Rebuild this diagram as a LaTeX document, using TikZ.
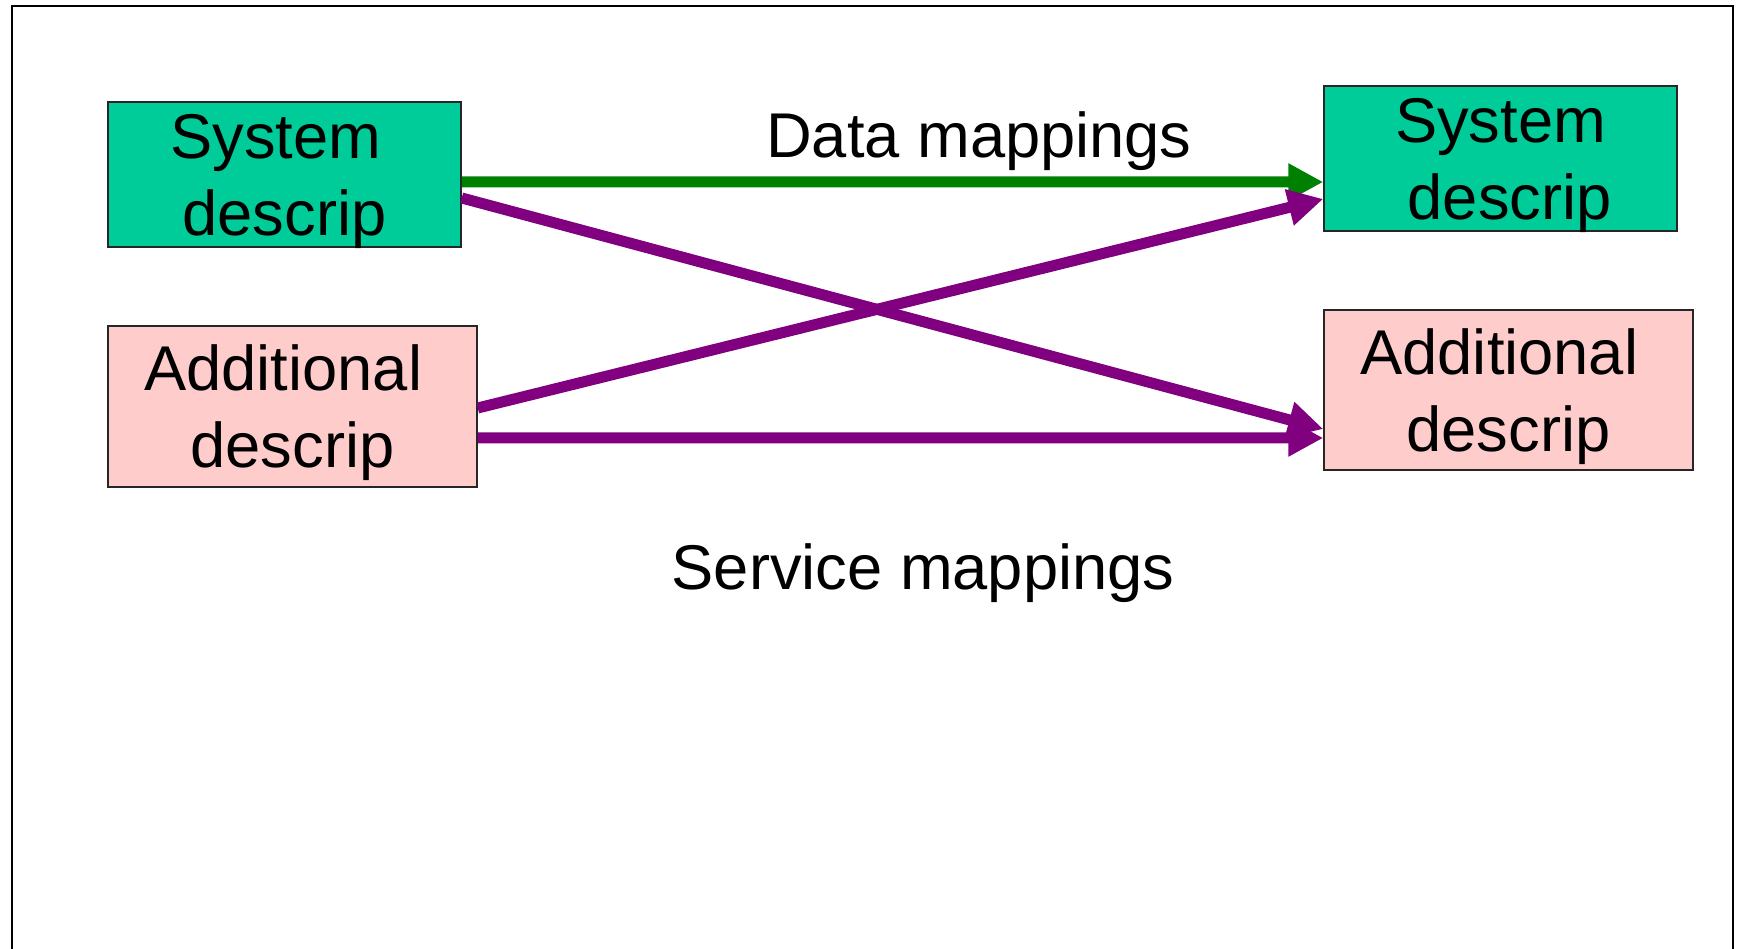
\documentclass[tikz,border=0pt]{standalone}
\usepackage{fontspec}
\setmainfont{Liberation Sans}
\usetikzlibrary{arrows.meta}
\definecolor{boxgreen}{HTML}{00CC99}
\definecolor{boxpink}{HTML}{FFCCCC}
\definecolor{arrgreen}{HTML}{008000}
\definecolor{arrpurple}{HTML}{800080}
\begin{document}
\begin{tikzpicture}[x=0.02cm,y=-0.02cm,
  bigfont/.style={font=\fontsize{36}{43.8}\selectfont},
  desc/.style={draw=black!85, line width=0.9pt, align=center, inner sep=0pt, text depth=0pt, bigfont},
  sysbox/.style={desc, fill=boxgreen, minimum width=7.06cm, minimum height=2.9cm},
  addbox/.style={desc, fill=boxpink, minimum width=7.38cm, minimum height=3.21cm},
  conn/.style={line width=0.22cm, -{Triangle[length=0.7cm,width=0.7cm]}},
  lbl/.style={bigfont, anchor=base, inner sep=0pt}]
\useasboundingbox (0,0) rectangle (1737,949);
\draw[line width=1.2pt] (12,949) -- (12,6) -- (1733,6) -- (1733,949);

\node[sysbox] (sysL) at (284.5,174.5) {System\hspace*{0.27em}\\descrip};
\node[addbox] (addL) at (292.5,406.5) {Additional\hspace*{0.29em}\\descrip};
\node[sysbox] (sysR) at (1500.5,158.5) {System\\\hspace*{0.29em}descrip};
\node[addbox] (addR) at (1508.5,390) {Additional\hspace*{0.29em}\\descrip};

\node[lbl] (datalbl) at (979,158) {Data mappings};
\node[lbl] (servlbl) at (923,589) {Service mappings};

\draw[conn, arrgreen] ([yshift=-0.15cm]sysL.east) -- ([yshift=-0.47cm]sysR.west);
\draw[conn, arrpurple] ([yshift=-0.47cm]sysL.east) -- ([yshift=-0.78cm]addR.west);
\draw[conn, arrpurple] ([yshift=-0.03cm]addL.east) -- ([yshift=-0.81cm]sysR.west);
\draw[conn, arrpurple] ([yshift=-0.63cm]addL.east) -- ([yshift=-0.96cm]addR.west);
\end{tikzpicture}
\end{document}
